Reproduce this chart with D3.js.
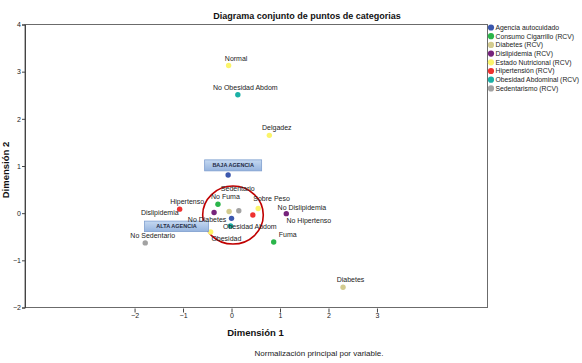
<!DOCTYPE html>
<html><head><meta charset="utf-8">
<script src="https://cdn.jsdelivr.net/npm/d3@7"></script>
<style>
body{margin:0;background:#fff;}
svg{display:block;font-family:"Liberation Sans",Arial,sans-serif;}
</style></head>
<body>
<svg id="chart" width="582" height="363"></svg>
<script>
// ---- data ----
const variables = ["Agencia autocuidado","Consumo Cigarrillo (RCV)","Diabetes (RCV)","Dislipidemia (RCV)","Estado Nutricional (RCV)","Hipertensión (RCV)","Obesidad Abdominal (RCV)","Sedentarismo (RCV)"];
const variableColors = ["#3b57ad","#2ab54a","#d3cb8f","#76247c","#fbf46a","#ee3230","#1bb0a6","#a2a2a2"];
const categories = ["BAJA AGENCIA","ALTA AGENCIA","No Fuma","Fuma","No Diabetes","Diabetes","Dislipidemia","No Dislipidemia","Normal","Delgadez","Sobre Peso","Obesidad","Hipertenso","No Hipertenso","No Obesidad Abdom","Obesidad Abdom","Sedentario","No Sedentario"];
const categoryVariable = [0,0,1,1,2,2,3,3,4,4,4,4,5,5,6,6,7,7];
const dimension1 = [-0.07,0.00,-0.28,0.87,-0.05,2.30,-0.36,1.13,-0.06,0.78,0.55,-0.43,-1.07,0.44,0.13,-0.02,0.15,-1.78];
const dimension2 = [0.81,-0.11,0.19,-0.61,0.035,-1.57,0.015,-0.01,3.13,1.65,0.10,-0.40,0.085,-0.04,2.51,-0.27,0.05,-0.63];
const xTicks = [-2,-1,0,1,2,3];
const yTicks = [-2,-1,0,1,2,3,4];
const boxedCategories = ["BAJA AGENCIA","ALTA AGENCIA"];
const highlightCenter = [0.03,-0.04];

// ---- layout (pixel nudges for labels, not data) ----
const nudges = {
  "BAJA AGENCIA":[5,-9.6],"ALTA AGENCIA":[-55,8],
  "Sedentario":[-1,-22.7],"Sobre Peso":[13.4,-10.3],"No Dislipidemia":[15.6,-6],
  "No Hipertenso":[56,5.6],"Dislipidemia":[-54.3,0.4],"No Diabetes":[-22,8],
  "Obesidad Abdom":[19.3,0.3],"Obesidad":[15.7,7],"Fuma":[14,-7.4]
};
const defNudge = [7.5,-7.3];

const svg = d3.select("#chart");
const pLeft=25, pRight=487.5, pTop=24.5, pBottom=307.5;
const x = d3.scaleLinear().domain([-4.26,5.28]).range([pLeft,pRight]);
const y = d3.scaleLinear().domain([-2,4]).range([pBottom,pTop]);

// frame
svg.append("rect").attr("x",pLeft).attr("y",pTop).attr("width",pRight-pLeft).attr("height",pBottom-pTop)
  .attr("fill","#fff").attr("stroke","#6b6b6b").attr("stroke-width",1);

// y axis
const yAxis = d3.axisLeft(y).tickValues(yTicks).tickSize(3).tickPadding(1).tickFormat(d3.format("d"));
const gy = svg.append("g").attr("transform",`translate(${pLeft},0)`).call(yAxis);
gy.select(".domain").attr("stroke","#444");
gy.selectAll("text").attr("font-size","7px").attr("fill","#222").attr("font-family","Liberation Sans, Arial, sans-serif");
gy.selectAll("line").attr("stroke","#444");

// x axis (below frame)
const xAxis = d3.axisBottom(x).tickValues(xTicks).tickSize(4).tickPadding(1).tickFormat(d3.format("d"));
const gx = svg.append("g").attr("transform",`translate(0,${pBottom+1})`).call(xAxis);
gx.select(".domain").remove();
gx.selectAll("text").attr("font-size","7px").attr("fill","#222").attr("font-family","Liberation Sans, Arial, sans-serif");
gx.selectAll("line").attr("stroke","#444");

// title & axis titles
svg.append("text").attr("x",307).attr("y",19).attr("text-anchor","middle")
  .attr("font-size","9px").attr("font-weight","bold").attr("fill","#111")
  .text("Diagrama conjunto de puntos de categorias");
svg.append("text").attr("x",255.5).attr("y",335.5).attr("text-anchor","middle")
  .attr("font-size","9.5px").attr("font-weight","bold").attr("fill","#111").text("Dimensión 1");
svg.append("text").attr("transform","translate(8.5,170) rotate(-90)").attr("text-anchor","middle")
  .attr("font-size","9.5px").attr("font-weight","bold").attr("fill","#111").text("Dimensión 2");
svg.append("text").attr("x",319).attr("y",355.5).attr("text-anchor","middle")
  .attr("font-size","8px").attr("fill","#222").text("Normalización principal por variable.");

// highlight circle
svg.append("ellipse").attr("cx",x(highlightCenter[0])).attr("cy",y(highlightCenter[1]))
  .attr("rx",30.3).attr("ry",29).attr("fill","none").attr("stroke","#c00000").attr("stroke-width",1.6);

const pts = categories.map((c,i)=>({name:c,v:categoryVariable[i],d1:dimension1[i],d2:dimension2[i]}));

// points
svg.append("g").selectAll("circle").data(pts).join("circle")
  .attr("cx",d=>x(d.d1)).attr("cy",d=>y(d.d2)).attr("r",2.7)
  .attr("fill",d=>variableColors[d.v]);

// labels
const lg = svg.append("g");
const defs = svg.append("defs");
const grad = defs.append("linearGradient").attr("id","boxg").attr("x1",0).attr("y1",0).attr("x2",0).attr("y2",1);
grad.append("stop").attr("offset","0%").attr("stop-color","#c5d9f1");
grad.append("stop").attr("offset","100%").attr("stop-color","#95b3de");
pts.forEach(d=>{
  const n = nudges[d.name]||defNudge;
  const cx = x(d.d1)+n[0], cy = y(d.d2)+n[1];
  if(boxedCategories.includes(d.name)){
    const w = d.name==="ALTA AGENCIA"?64:57, h = d.name==="ALTA AGENCIA"?10.5:11;
    lg.append("rect").attr("x",cx-w/2).attr("y",cy-h/2).attr("width",w).attr("height",h)
      .attr("fill","url(#boxg)").attr("stroke","#7f9fcf").attr("stroke-width",0.8);
    lg.append("text").attr("x",cx).attr("y",cy).attr("dy","0.35em").attr("text-anchor","middle")
      .attr("font-size","5.5px").attr("font-weight","bold").attr("fill","#1f2a44").text(d.name);
  } else {
    lg.append("text").attr("x",cx).attr("y",cy).attr("dy","0.35em").attr("text-anchor","middle")
      .attr("font-size","7px").attr("fill","#222").text(d.name);
  }
});

// legend
const leg = svg.append("g").attr("transform","translate(491,27.5)");
const rows = leg.selectAll("g").data(variables).join("g").attr("transform",(d,i)=>`translate(0,${i*8.7})`);
rows.append("circle").attr("cx",0).attr("cy",0).attr("r",3.1).attr("fill",(d,i)=>variableColors[i]);
rows.append("text").attr("x",4.5).attr("y",0).attr("dy","0.35em").attr("font-size","6.8px").attr("fill","#222").text(d=>d);
</script>
</body></html>
